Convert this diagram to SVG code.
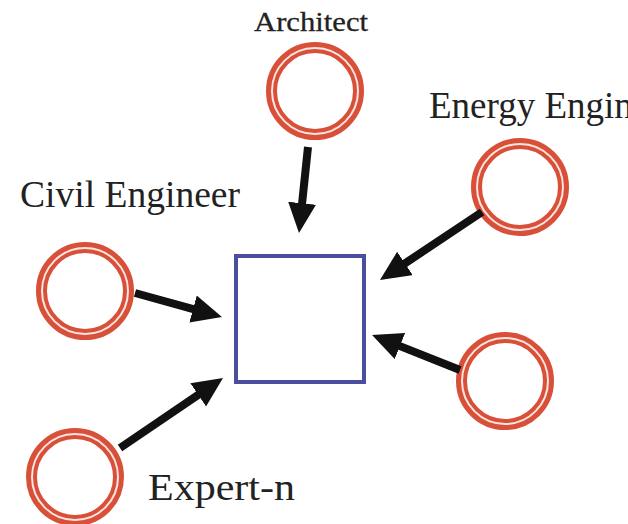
<svg xmlns="http://www.w3.org/2000/svg" width="628" height="524" viewBox="0 0 628 524">
  <style>
    .ring { fill: #ffffff; stroke: #d9503a; stroke-width: 11; }
    .gap { fill: none; stroke: #fde6df; stroke-width: 2; }
    .box { fill: #ffffff; stroke: #4a4e9e; stroke-width: 4; }
    .lbl { font-family: "Liberation Serif", "Times New Roman", serif; fill: #222222; }
    .conn line { stroke: #111111; stroke-width: 8; marker-end: url(#head); }
  </style>
  <defs>
    <marker id="head" markerUnits="userSpaceOnUse" viewBox="0 0 30 28" markerWidth="30" markerHeight="28" refX="4" refY="14" orient="auto">
      <path d="M0,0 L30,14 L0,28 Z" fill="#111111"/>
    </marker>
  </defs>
  <rect width="628" height="524" fill="#ffffff"/>

  <g id="architect">
    <circle class="ring" cx="315" cy="91" r="43.5"/>
    <circle class="gap" cx="315" cy="91" r="43"/>
    <text class="lbl" x="254" y="31" font-size="27" textLength="114" lengthAdjust="spacingAndGlyphs" stroke="#222222" stroke-width="0.3">Architect</text>
  </g>

  <g id="energy-engineer">
    <circle class="ring" cx="520" cy="187" r="43.5"/>
    <circle class="gap" cx="520" cy="187" r="43"/>
    <text class="lbl" x="429" y="118" font-size="37">Energy Engineer</text>
  </g>

  <g id="civil-engineer">
    <circle class="ring" cx="85" cy="291" r="43.5"/>
    <circle class="gap" cx="85" cy="291" r="43"/>
    <text class="lbl" x="20" y="207" font-size="37" textLength="220" lengthAdjust="spacingAndGlyphs">Civil Engineer</text>
  </g>

  <g id="expert-5">
    <circle class="ring" cx="505" cy="381" r="43.5"/>
    <circle class="gap" cx="505" cy="381" r="43"/>
  </g>

  <g id="expert-n">
    <circle class="ring" cx="75" cy="477" r="43.5"/>
    <circle class="gap" cx="75" cy="477" r="43"/>
    <text class="lbl" x="148" y="500" font-size="37" textLength="147" lengthAdjust="spacingAndGlyphs">Expert-n</text>
  </g>

  <g id="target">
    <rect class="box" x="236" y="256" width="128" height="126"/>
  </g>

  <g id="connectors" class="conn">
    <line x1="308" y1="147" x2="301.7" y2="207.2"/>
    <line x1="482" y1="212" x2="401.6" y2="265.6"/>
    <line x1="135" y1="293" x2="196.9" y2="310.1"/>
    <line x1="460" y1="370" x2="396.2" y2="344.6"/>
    <line x1="120" y1="448" x2="201.5" y2="392.6"/>
  </g>
</svg>
